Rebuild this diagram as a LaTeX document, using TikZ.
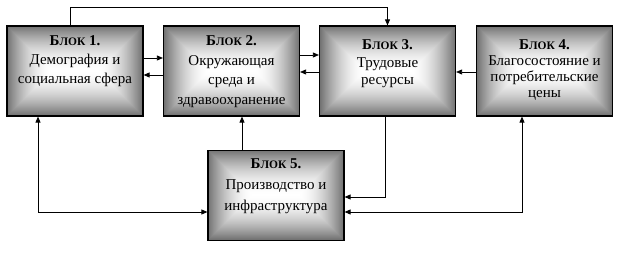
\documentclass[tikz,border=0pt]{standalone}
\usepackage{fontspec}
\setmainfont{Liberation Serif}
\usetikzlibrary{arrows.meta, calc}

% Блоки с заливкой "от центра"
\tikzset{
  blok/.style={draw, line width=1.2pt, minimum width=136pt, minimum height=90pt, inner sep=0pt,
    path picture={
      \foreach \d in {0,...,45}{
        \pgfmathsetmacro{\ton}{55*(1-\d/45)^1.8}
        \fill[black!\ton]
          ([shift={(\d pt,\d pt)}]path picture bounding box.south west)
          rectangle
          ([shift={(-\d pt,-\d pt)}]path picture bounding box.north east);
      }
    }},
  svyaz/.style={line width=0.8pt}
}
\newcommand{\zag}[1]{\textbf{Б{\fontsize{11.5pt}{11.5pt}\selectfont ЛОК} #1.}}
\newcommand{\tekst}[3][74pt]{\parbox[t][#1][t]{132pt}{\centering\fontsize{15pt}{#2}\selectfont #3}}

\begin{document}
\begin{tikzpicture}[x=1pt, y=-1pt, >={Triangle[length=6pt,width=5pt]}]

    % Границы рисунка
    \useasboundingbox (0,0) rectangle (619,253);

    % Блоки
    \node[blok] (b1) at (75,71) {\tekst[70pt]{19pt}{\zag{1}\\Демография и\\социальная сфера}};
    \node[blok] (b2) at (231.5,71) {\tekst[70pt]{19.5pt}{\zag{2}\\Окружающая\\среда и\\здравоохранение}};
    \node[blok] (b3) at (387.5,71) {\tekst[62pt]{17.5pt}{\zag{3}\\Трудовые\\ресурсы}};
    \node[blok] (b4) at (544.5,71) {\tekst[62pt]{16pt}{\zag{4}\\Благосостояние и\\потребительские\\цены}};
    \node[blok] (b5) at (276,195.5) {\tekst{21pt}{\zag{5}\\Производство и\\инфраструктура}};

    % Вспомогательные точки
    \coordinate (verh) at (0,7);
    \coordinate (k1) at ([xshift=-37pt]b1.south);
    \coordinate (k2) at ([xshift=10.5pt]b2.south);
    \coordinate (k3) at ([xshift=-2.5pt]b3.south);
    \coordinate (k4) at ([xshift=-22.5pt]b4.south);

    % Связи между блоками
    \draw[svyaz, ->] ([xshift=-5pt]b1.north) |- (verh -| b3.north) -- (b3.north);
    \draw[svyaz, ->] ([yshift=13pt]b1.east) -- ([yshift=13pt]b2.west);
    \draw[svyaz, ->] ([yshift=-4pt]b2.west) -- ([yshift=-4pt]b1.east);
    \draw[svyaz, ->] ([yshift=16pt]b2.east) -- ([yshift=16pt]b3.west);
    \draw[svyaz, ->] ([yshift=-1pt]b3.west) -- ([yshift=-1pt]b2.east);
    \draw[svyaz, ->] ([yshift=-1pt]b4.west) -- ([yshift=-1pt]b3.east);
    \draw[svyaz, ->] (k2 |- b5.north) -- (k2);
    \draw[svyaz, ->] (k3) |- ([yshift=-1.5pt]b5.east);
    \draw[svyaz, <->] (k1) |- ([yshift=-16.5pt]b5.west);
    \draw[svyaz, <->] (k4) |- ([yshift=-16.5pt]b5.east);

\end{tikzpicture}
\end{document}
